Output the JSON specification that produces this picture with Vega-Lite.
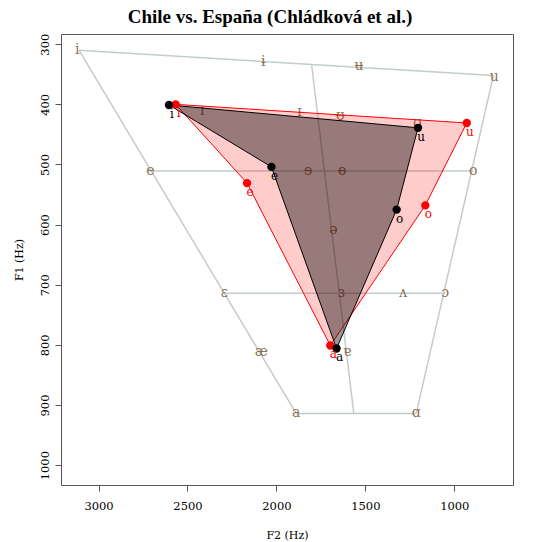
{
  "$schema": "https://vega.github.io/schema/vega-lite/v6.json",
  "width": 452,
  "height": 451,
  "autosize": "none",
  "padding": {"left": 61, "top": 34, "right": 20, "bottom": 57},
  "background": "white",
  "config": {"view": {"stroke": "#555555", "strokeWidth": 1}, "font": "DejaVu Serif"},
  "title": {"text": "Chile vs. España (Chládková et al.)", "font": "Liberation Serif", "fontSize": 19, "fontWeight": "bold", "color": "black", "anchor": "middle", "dx": -17, "offset": 6},
  "datasets": {
    "grid": [
      {"id": "top", "ord": 1, "F2": 3110, "F1": 310}, {"id": "top", "ord": 2, "F2": 780, "F1": 352},
      {"id": "left", "ord": 1, "F2": 3110, "F1": 310}, {"id": "left", "ord": 2, "F2": 1889, "F1": 914},
      {"id": "bottom", "ord": 1, "F2": 1889, "F1": 914}, {"id": "bottom", "ord": 2, "F2": 1214, "F1": 914},
      {"id": "right", "ord": 1, "F2": 780, "F1": 352}, {"id": "right", "ord": 2, "F2": 1214, "F1": 914},
      {"id": "closemid", "ord": 1, "F2": 2709, "F1": 511}, {"id": "closemid", "ord": 2, "F2": 893, "F1": 511},
      {"id": "openmid", "ord": 1, "F2": 2293, "F1": 714}, {"id": "openmid", "ord": 2, "F2": 1051, "F1": 714},
      {"id": "central", "ord": 1, "F2": 1802, "F1": 335}, {"id": "central", "ord": 2, "F2": 1565, "F1": 914}
    ],
    "ipa": [
      {"sym": "i", "F2": 3120, "F1": 310}, {"sym": "ɨ", "F2": 2074, "F1": 330}, {"sym": "ʉ", "F2": 1535, "F1": 336}, {"sym": "u", "F2": 775, "F1": 354},
      {"sym": "ɪ", "F2": 2417, "F1": 411}, {"sym": "ᵻ", "F2": 1871, "F1": 413}, {"sym": "ᵿ", "F2": 1641, "F1": 419}, {"sym": "ʊ", "F2": 1208, "F1": 431},
      {"sym": "e", "F2": 2709, "F1": 511}, {"sym": "ɘ", "F2": 1821, "F1": 511}, {"sym": "ɵ", "F2": 1630, "F1": 511}, {"sym": "o", "F2": 893, "F1": 511},
      {"sym": "ə", "F2": 1680, "F1": 609},
      {"sym": "ɛ", "F2": 2293, "F1": 714}, {"sym": "ɜ", "F2": 1635, "F1": 714}, {"sym": "ʌ", "F2": 1287, "F1": 714}, {"sym": "ɔ", "F2": 1051, "F1": 714},
      {"sym": "æ", "F2": 2085, "F1": 812}, {"sym": "ɐ", "F2": 1602, "F1": 812},
      {"sym": "a", "F2": 1889, "F1": 914}, {"sym": "ɑ", "F2": 1214, "F1": 914}
    ],
    "vowels": [
      {"group": "España", "vowel": "i", "ord": 1, "close": false, "F2": 2566, "F1": 400},
      {"group": "España", "vowel": "e", "ord": 2, "close": false, "F2": 2165, "F1": 531},
      {"group": "España", "vowel": "a", "ord": 3, "close": false, "F2": 1697, "F1": 801},
      {"group": "España", "vowel": "o", "ord": 4, "close": false, "F2": 1163, "F1": 568},
      {"group": "España", "vowel": "u", "ord": 5, "close": false, "F2": 930, "F1": 431},
      {"group": "España", "vowel": "i", "ord": 6, "close": true, "F2": 2566, "F1": 400},
      {"group": "Chile", "vowel": "i", "ord": 1, "close": false, "F2": 2604, "F1": 401},
      {"group": "Chile", "vowel": "e", "ord": 2, "close": false, "F2": 2028, "F1": 504},
      {"group": "Chile", "vowel": "a", "ord": 3, "close": false, "F2": 1662, "F1": 806},
      {"group": "Chile", "vowel": "o", "ord": 4, "close": false, "F2": 1324, "F1": 575},
      {"group": "Chile", "vowel": "u", "ord": 5, "close": false, "F2": 1204, "F1": 439},
      {"group": "Chile", "vowel": "i", "ord": 6, "close": true, "F2": 2604, "F1": 401}
    ]
  },
  "encoding": {
    "x": {"field": "F2", "type": "quantitative",
      "scale": {"domain": [670, 3211], "reverse": true, "nice": false, "zero": false},
      "axis": {"title": "F2 (Hz)", "values": [1000, 1500, 2000, 2500, 3000], "format": "d", "grid": false, "domain": false,
        "tickSize": 6, "tickColor": "#555555", "labelFont": "DejaVu Serif", "labelFontSize": 11.5, "labelColor": "black", "labelPadding": 9,
        "titleFont": "DejaVu Serif", "titleFontSize": 11, "titleFontWeight": "normal", "titleColor": "black", "titlePadding": 18}},
    "y": {"field": "F1", "type": "quantitative",
      "scale": {"domain": [283, 1033], "reverse": true, "nice": false, "zero": false},
      "axis": {"title": "F1 (Hz)", "values": [300, 400, 500, 600, 700, 800, 900, 1000], "format": "d", "grid": false, "domain": false,
        "tickSize": 6, "tickColor": "#555555", "labelFont": "DejaVu Serif", "labelFontSize": 11.5, "labelColor": "black", "labelPadding": 5, "labelAngle": -90,
        "titleFont": "DejaVu Serif", "titleFontSize": 11, "titleFontWeight": "normal", "titleColor": "black", "titlePadding": 15}}
  },
  "layer": [
    {"data": {"name": "grid"}, "mark": {"type": "line", "color": "#c2cccc", "strokeWidth": 1.5},
      "encoding": {"detail": {"field": "id"}, "order": {"field": "ord"}}},
    {"data": {"name": "ipa"}, "mark": {"type": "text", "font": "DejaVu Serif", "fontSize": 14, "color": "#8b7355", "baseline": "middle", "align": "center"},
      "encoding": {"text": {"field": "sym"}}},
    {"data": {"name": "vowels"}, "transform": [{"filter": "datum.group === 'España'"}],
      "mark": {"type": "line", "stroke": "red", "strokeWidth": 1, "fill": "red", "fillOpacity": 0.2},
      "encoding": {"order": {"field": "ord"}}},
    {"data": {"name": "vowels"}, "transform": [{"filter": "datum.group === 'Chile'"}],
      "mark": {"type": "line", "stroke": "black", "strokeWidth": 1, "fill": "black", "fillOpacity": 0.4},
      "encoding": {"order": {"field": "ord"}}},
    {"data": {"name": "vowels"}, "transform": [{"filter": "!datum.close"}],
      "mark": {"type": "circle", "size": 70, "opacity": 1},
      "encoding": {"color": {"field": "group", "type": "nominal", "scale": {"domain": ["España", "Chile"], "range": ["red", "black"]}, "legend": null}}},
    {"data": {"name": "vowels"}, "transform": [{"filter": "!datum.close"}],
      "mark": {"type": "text", "font": "DejaVu Serif", "fontSize": 12, "dx": 3, "dy": 9, "baseline": "middle", "align": "center"},
      "encoding": {"text": {"field": "vowel"}, "color": {"field": "group", "type": "nominal", "scale": {"domain": ["España", "Chile"], "range": ["red", "black"]}, "legend": null}}}
  ]
}
